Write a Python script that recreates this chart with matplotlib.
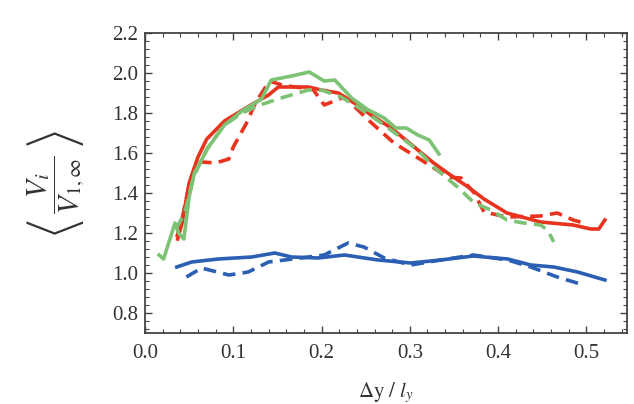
import matplotlib
matplotlib.use("Agg")
import matplotlib.pyplot as plt
from matplotlib.ticker import MultipleLocator

plt.rcParams['font.family'] = ['Liberation Serif', 'DejaVu Serif']
plt.rcParams['mathtext.fontset'] = 'stix'

# green, solid
g_sol_x = [0.016, 0.021, 0.034, 0.038, 0.044, 0.05, 0.056, 0.072, 0.09, 0.11, 0.132, 0.143,
           0.166, 0.186, 0.203, 0.215, 0.234, 0.253, 0.271, 0.284, 0.296, 0.309, 0.322, 0.333]
g_sol_y = [1.09, 1.07, 1.25, 1.2, 1.17, 1.38, 1.5, 1.63, 1.74, 1.81, 1.87, 1.965,
           1.985, 2.005, 1.96, 1.965, 1.875, 1.815, 1.775, 1.725, 1.725, 1.69, 1.665, 1.595]
# green, dashed
g_das_x = [0.035, 0.045, 0.055, 0.07, 0.09, 0.11, 0.13, 0.158, 0.185, 0.2, 0.222, 0.241,
           0.271, 0.309, 0.327, 0.354, 0.373, 0.392, 0.41, 0.429, 0.448, 0.456, 0.463]
g_das_y = [1.22, 1.3, 1.48, 1.62, 1.74, 1.8, 1.84, 1.88, 1.915, 1.915, 1.88, 1.83,
           1.74, 1.615, 1.53, 1.43, 1.35, 1.315, 1.265, 1.25, 1.24, 1.215, 1.155]
# red, solid
r_sol_x = [0.037, 0.042, 0.05, 0.06, 0.07, 0.09, 0.12, 0.14, 0.151, 0.185, 0.2, 0.219,
           0.237, 0.256, 0.279, 0.305, 0.327, 0.346, 0.366, 0.384, 0.41, 0.448, 0.485,
           0.505, 0.514, 0.521]
r_sol_y = [1.17, 1.25, 1.45, 1.58, 1.67, 1.76, 1.84, 1.89, 1.93, 1.93, 1.915, 1.9,
           1.85, 1.79, 1.725, 1.63, 1.55, 1.49, 1.43, 1.37, 1.3, 1.255, 1.24,
           1.22, 1.22, 1.265]
# red, dashed
r_das_x = [0.036, 0.042, 0.05, 0.058, 0.065, 0.08, 0.095, 0.1, 0.115, 0.125, 0.141, 0.155,
           0.17, 0.19, 0.203, 0.226, 0.253, 0.282, 0.313, 0.343, 0.358, 0.373, 0.384,
           0.41, 0.448, 0.467, 0.485, 0.497]
r_das_y = [1.18, 1.27, 1.44, 1.55, 1.555, 1.55, 1.57, 1.63, 1.75, 1.85, 1.96, 1.94,
           1.93, 1.92, 1.84, 1.88, 1.765, 1.65, 1.565, 1.48, 1.475, 1.4, 1.305,
           1.28, 1.285, 1.3, 1.265, 1.25]
# blue, solid
b_sol_x = [0.036, 0.053, 0.083, 0.121, 0.147, 0.166, 0.196, 0.226, 0.264, 0.301, 0.335,
           0.372, 0.411, 0.437, 0.463, 0.49, 0.521]
b_sol_y = [1.03, 1.055, 1.07, 1.08, 1.1, 1.08, 1.075, 1.09, 1.065, 1.05, 1.065,
           1.085, 1.07, 1.04, 1.03, 1.005, 0.965]
# blue, dashed
b_das_x = [0.047, 0.064, 0.095, 0.117, 0.14, 0.158, 0.203, 0.23, 0.248, 0.271, 0.301,
           0.335, 0.372, 0.411, 0.437, 0.467, 0.497]
b_das_y = [0.98, 1.025, 0.99, 1.005, 1.055, 1.065, 1.09, 1.15, 1.13, 1.075, 1.04,
           1.065, 1.09, 1.065, 1.03, 0.98, 0.94]

red = '#e8341f'
green = '#7dc275'
blue = '#2b5fb4'

fig = plt.figure(figsize=(6.34, 4.04), dpi=100)
ax = fig.add_axes([145 / 634, 1 - 333 / 404, (627 - 145) / 634, 300 / 404])

lw = 2.6
dash = (3.5, 2.0)
ax.plot(b_sol_x, b_sol_y, color=blue, lw=lw)
ax.plot(b_das_x, b_das_y, color=blue, lw=lw, dashes=dash)
ax.plot(r_sol_x, r_sol_y, color=red, lw=lw)
ax.plot(r_das_x, r_das_y, color=red, lw=lw, dashes=dash)
ax.plot(g_sol_x, g_sol_y, color=green, lw=lw)
ax.plot(g_das_x, g_das_y, color=green, lw=lw, dashes=dash)

ax.set_xlim(0.0, 0.546)
ax.set_ylim(0.7, 2.2)
ax.xaxis.set_major_locator(MultipleLocator(0.1))
ax.xaxis.set_minor_locator(MultipleLocator(0.02))
ax.yaxis.set_minor_locator(MultipleLocator(0.04))
ax.set_yticks([0.8, 1.0, 1.2, 1.4, 1.6, 1.8, 2.0, 2.2])

tc = '#444444'
for s in ax.spines.values():
    s.set_color(tc)
    s.set_linewidth(1.3)
ax.tick_params(which='both', direction='in', top=True, right=True, color=tc,
               labelcolor='#333333', labelsize=15)
ax.tick_params(which='major', length=5, width=1)
ax.tick_params(which='minor', length=3, width=0.8)
ax.tick_params(axis='x', pad=8)
ax.tick_params(axis='y', pad=5)

ax.set_xlabel(r'$\Delta\mathrm{y}\ /\ l_y$', fontsize=15, color='#333333', labelpad=12)
ax.set_ylabel(r'$\left\langle\;\dfrac{V_i}{V_{1,\infty}}\;\right\rangle$', fontsize=21,
              color='#333333', labelpad=18)

fig.savefig('out.png', dpi=100)
